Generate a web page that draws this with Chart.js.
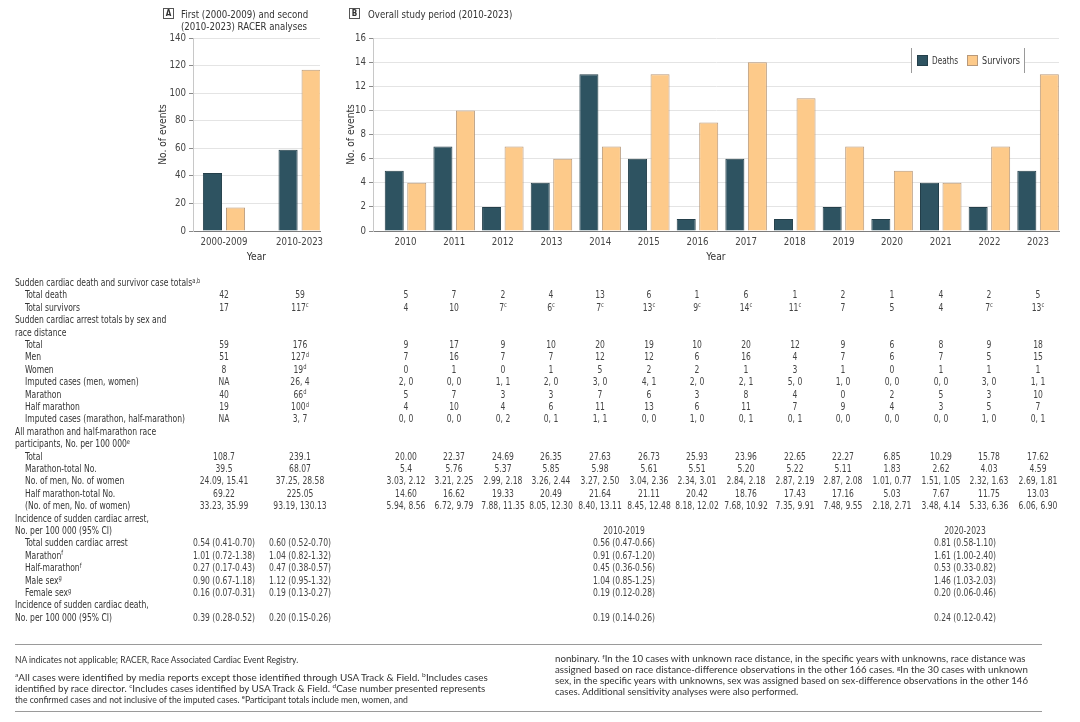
<!DOCTYPE html>
<html><head><meta charset="utf-8">
<script src="https://cdn.jsdelivr.net/npm/chart.js@4.4.1/dist/chart.umd.min.js"></script>
<style>
html,body{margin:0;padding:0;background:#fff;}
#wrap{position:relative;width:1080px;height:722px;overflow:hidden;background:#fff;color:#333;}
canvas{position:absolute;left:0;top:0;}
.t{position:absolute;white-space:nowrap;line-height:12px;height:12px;transform-origin:0 50%;}
.c{transform-origin:50% 50%;}
sup{font-size:68%;vertical-align:0;position:relative;top:-0.5em;line-height:0;}
.rule{position:absolute;height:0;border-top:1.5px solid #9a9a9a;}
.box{position:absolute;border:1px solid #555;font-weight:bold;text-align:center;box-sizing:border-box;color:#333;}
</style></head>
<body><div id="wrap">
<canvas id="cA" width="1080" height="722"></canvas>
<canvas id="cB" width="1080" height="722"></canvas>
</div>
<script>
// ---------------- DATA ----------------
const periodsA = ['2000-2009', '2010-2023'];
const deathsA = [42, 59];
const survivorsA = [17, 117];
const survivorNotesA = ['', 'c'];

const years = [2010, 2011, 2012, 2013, 2014, 2015, 2016, 2017, 2018, 2019, 2020, 2021, 2022, 2023];
const deathsB = [5, 7, 2, 4, 13, 6, 1, 6, 1, 2, 1, 4, 2, 5];
const survivorsB = [4, 10, 7, 6, 7, 13, 9, 14, 11, 7, 5, 4, 7, 13];
const survivorNotesB = ['', '', 'c', 'c', 'c', 'c', 'c', 'c', 'c', '', '', '', 'c', 'c'];

const yTicksA = [0, 20, 40, 60, 80, 100, 120, 140];
const yTicksB = [0, 2, 4, 6, 8, 10, 12, 14, 16];

// table rows: first two entries = panel A periods, then 2010..2023
const scaTotal = ['59', '176', '9', '17', '9', '10', '20', '19', '10', '20', '12', '9', '6', '8', '9', '18'];
const scaMen = ['51', '127^d', '7', '16', '7', '7', '12', '12', '6', '16', '4', '7', '6', '7', '5', '15'];
const scaWomen = ['8', '19^d', '0', '1', '0', '1', '5', '2', '2', '1', '3', '1', '0', '1', '1', '1'];
const imputedSex = ['NA', '26, 4', '2, 0', '0, 0', '1, 1', '2, 0', '3, 0', '4, 1', '2, 0', '2, 1', '5, 0', '1, 0', '0, 0', '0, 0', '3, 0', '1, 1'];
const scaMarathon = ['40', '66^d', '5', '7', '3', '3', '7', '6', '3', '8', '4', '0', '2', '5', '3', '10'];
const scaHalf = ['19', '100^d', '4', '10', '4', '6', '11', '13', '6', '11', '7', '9', '4', '3', '5', '7'];
const imputedDist = ['NA', '3, 7', '0, 0', '0, 0', '0, 2', '0, 1', '1, 1', '0, 0', '1, 0', '0, 1', '0, 1', '0, 0', '0, 0', '0, 0', '1, 0', '0, 1'];
const partTotal = ['108.7', '239.1', '20.00', '22.37', '24.69', '26.35', '27.63', '26.73', '25.93', '23.96', '22.65', '22.27', '6.85', '10.29', '15.78', '17.62'];
const partMarathon = ['39.5', '68.07', '5.4', '5.76', '5.37', '5.85', '5.98', '5.61', '5.51', '5.20', '5.22', '5.11', '1.83', '2.62', '4.03', '4.59'];
const partMarathonSex = ['24.09, 15.41', '37.25, 28.58', '3.03, 2.12', '3.21, 2.25', '2.99, 2.18', '3.26, 2.44', '3.27, 2.50', '3.04, 2.36', '2.34, 3.01', '2.84, 2.18', '2.87, 2.19', '2.87, 2.08', '1.01, 0.77', '1.51, 1.05', '2.32, 1.63', '2.69, 1.81'];
const partHalf = ['69.22', '225.05', '14.60', '16.62', '19.33', '20.49', '21.64', '21.11', '20.42', '18.76', '17.43', '17.16', '5.03', '7.67', '11.75', '13.03'];
const partHalfSex = ['33.23, 35.99', '93.19, 130.13', '5.94, 8.56', '6.72, 9.79', '7.88, 11.35', '8.05, 12.30', '8.40, 13.11', '8.45, 12.48', '8.18, 12.02', '7.68, 10.92', '7.35, 9.91', '7.48, 9.55', '2.18, 2.71', '3.48, 4.14', '5.33, 6.36', '6.06, 6.90'];

// incidence: panel A periods, then 2010-2019 and 2020-2023
const incPeriods = ['2010-2019', '2020-2023'];
const incTotal = ['0.54 (0.41-0.70)', '0.60 (0.52-0.70)', '0.56 (0.47-0.66)', '0.81 (0.58-1.10)'];
const incMarathon = ['1.01 (0.72-1.38)', '1.04 (0.82-1.32)', '0.91 (0.67-1.20)', '1.61 (1.00-2.40)'];
const incHalf = ['0.27 (0.17-0.43)', '0.47 (0.38-0.57)', '0.45 (0.36-0.56)', '0.53 (0.33-0.82)'];
const incMale = ['0.90 (0.67-1.18)', '1.12 (0.95-1.32)', '1.04 (0.85-1.25)', '1.46 (1.03-2.03)'];
const incFemale = ['0.16 (0.07-0.31)', '0.19 (0.13-0.27)', '0.19 (0.12-0.28)', '0.20 (0.06-0.46)'];
const incDeath = ['0.39 (0.28-0.52)', '0.20 (0.15-0.26)', '0.19 (0.14-0.26)', '0.24 (0.12-0.42)'];

const footLeft = [
  'NA indicates not applicable; RACER, Race Associated Cardiac Event Registry.',
  '^aAll cases were identified by media reports except those identified through USA Track &amp; Field. ^bIncludes cases',
  'identified by race director. ^cIncludes cases identified by USA Track &amp; Field. ^dCase number presented represents',
  'the confirmed cases and not inclusive of the imputed cases. ^eParticipant totals include men, women, and'
];
const footRight = [
  'nonbinary. ^fIn the 10 cases with unknown race distance, in the specific years with unknowns, race distance was',
  'assigned based on race distance-difference observations in the other 166 cases. ^gIn the 30 cases with unknown',
  'sex, in the specific years with unknowns, sex was assigned based on sex-difference observations in the other 146',
  'cases. Additional sensitivity analyses were also performed.'
];

// ---------------- FONTS ----------------
const mctx = document.createElement('canvas').getContext('2d');
function hasFont(f) {
  const s = 'mmmmmmmmmmlli1WQ@#abc';
  for (const base of ['monospace', 'serif']) {
    mctx.font = '40px ' + base; const a = mctx.measureText(s).width;
    mctx.font = '40px "' + f + '", ' + base; const b = mctx.measureText(s).width;
    if (a !== b) return true;
  }
  return false;
}
function pick(list) { for (const f of list) if (hasFont(f)) return f; return 'sans-serif'; }
function textW(fam, size, text) { mctx.font = size + 'px "' + fam + '"'; return mctx.measureText(text).width; }
const FAM = pick(['Liberation Sans Narrow', 'DejaVu Sans Condensed', 'Liberation Sans', 'Roboto']);
const FOOTFAM = pick(['Lato', 'Open Sans', 'Liberation Sans']);
const TSIZE = 10.2;
const COND = Math.min(1, 160 / textW(FAM, TSIZE, 'Imputed cases (marathon, half-marathon)'));
const FSIZE = 9.6;

Chart.defaults.font.family = '"' + FAM + '"';
Chart.defaults.font.size = 9.6;
Chart.defaults.color = '#444';

// ---------------- CHARTS ----------------
const DEATH_FILL = '#2e5361', DEATH_LINE = '#243f4a';
const SURV_FILL = '#fdca8a', SURV_LINE = '#b8997a';

const boxLegend = {
  id: 'boxLegend',
  afterDraw(chart) {
    const ctx = chart.ctx;
    ctx.save();
    ctx.fillStyle = '#fff';
    ctx.fillRect(911, 48, 113, 25);
    ctx.strokeStyle = '#9a9a9a'; ctx.lineWidth = 1;
    ctx.beginPath(); ctx.moveTo(911.5, 48); ctx.lineTo(911.5, 73); ctx.moveTo(1024.5, 48); ctx.lineTo(1024.5, 73); ctx.stroke();
    const xs = [917, 967];
    const tw = [26, 38];
    chart.data.datasets.forEach((ds, i) => {
      ctx.fillStyle = ds.backgroundColor; ctx.fillRect(xs[i], 55, 11, 11);
      ctx.strokeStyle = ds.borderColor; ctx.strokeRect(xs[i] + 0.5, 55.5, 10, 10);
      ctx.fillStyle = '#333'; ctx.font = '10px "' + FAM + '"';
      ctx.textBaseline = 'middle'; ctx.textAlign = 'left';
      ctx.fillText(ds.label, xs[i] + 15, 61, tw[i]);
    });
    ctx.restore();
  }
};

function makeBar(id, xVals, deaths, survivors, xMin, xMax, yTicks, catPct, barPct, pad, yWidth, xLabel, plugins) {
  return new Chart(document.getElementById(id), {
    type: 'bar',
    data: {
      datasets: [
        { label: 'Deaths', data: xVals.map((x, i) => ({ x: x, y: deaths[i] })), backgroundColor: DEATH_FILL, borderColor: DEATH_LINE, borderWidth: 1, categoryPercentage: catPct, barPercentage: barPct },
        { label: 'Survivors', data: xVals.map((x, i) => ({ x: x, y: survivors[i] })), backgroundColor: SURV_FILL, borderColor: SURV_LINE, borderWidth: 1, categoryPercentage: catPct, barPercentage: barPct }
      ]
    },
    options: {
      responsive: false, animation: false,
      layout: { padding: pad },
      plugins: { legend: { display: false }, tooltip: { enabled: false } },
      scales: {
        x: {
          type: 'linear', min: xMin, max: xMax, offset: false,
          grid: { display: false, drawTicks: false },
          border: { display: true, color: '#7d7d7d', width: 1 },
          ticks: { stepSize: 1, autoSkip: false, includeBounds: false, maxRotation: 0, minRotation: 0, padding: 6, color: '#444', callback: xLabel },
          title: { display: true, text: 'Year', color: '#333', font: { size: 10.2 }, padding: { top: 4, bottom: 4 } },
          afterFit(s) { s.height = 36; }
        },
        y: {
          min: yTicks[0], max: yTicks[yTicks.length - 1],
          ticks: { stepSize: yTicks[1] - yTicks[0], padding: 3, color: '#444' },
          grid: { color: '#e4e4e4', tickColor: '#8a8a8a', tickLength: 4, lineWidth: 1 },
          border: { display: true, color: '#c8c8c8' },
          title: { display: true, text: 'No. of events', color: '#333', font: { size: 10.2 }, padding: { top: 4, bottom: 4 } },
          afterFit(s) { s.width = yWidth; }
        }
      }
    },
    plugins: plugins
  });
}

const chartA = makeBar('cA', periodsA.map((p, i) => i), deathsA, survivorsA, -0.41, 1.27, yTicksA, 0.61, 0.83,
  { left: 153, top: 38, right: 760, bottom: 455 }, 40,
  v => (Number.isInteger(v) && periodsA[v] !== undefined) ? periodsA[v] : '', []);
const chartB = makeBar('cB', years, deathsB, survivorsB, 2009.332, 2023.43, yTicksB, 0.925, 0.845,
  { left: 341, top: 38, right: 21, bottom: 455 }, 32,
  v => years.includes(v) ? String(v) : '', [boxLegend]);
document.getElementById('cB').style.pointerEvents = 'none';

// ---------------- TEXT OVERLAY ----------------
const wrap = document.getElementById('wrap');
function fmt(s) { return String(s).replace(/\^([a-z,]+)/g, '<sup>$1</sup>'); }
function addText(html, x, y, opts) {
  opts = opts || {};
  const d = document.createElement('div');
  d.className = 't' + (opts.center ? ' c' : '');
  d.innerHTML = fmt(html);
  d.style.left = x + 'px';
  d.style.top = (y - 6) + 'px';
  d.style.fontFamily = '"' + (opts.fam || FAM) + '"';
  d.style.fontSize = (opts.size || TSIZE) + 'px';
  d.style.color = opts.color || '#333';
  wrap.appendChild(d);
  let k = opts.scale || COND;
  if (opts.fitW) k = opts.fitW / d.offsetWidth;
  d.style.transform = (opts.center ? 'translateX(-50%) ' : '') + 'scaleX(' + k + ')';
  return d;
}
function addBox(letter, x, y) {
  const b = document.createElement('div');
  b.className = 'box';
  b.style.left = x + 'px'; b.style.top = y + 'px';
  b.style.width = '11px'; b.style.height = '11px';
  b.style.fontSize = '8px'; b.style.lineHeight = '9px';
  b.style.fontFamily = '"' + FAM + '"';
  b.textContent = letter;
  wrap.appendChild(b);
}
function addRule(x, y, w) {
  const r = document.createElement('div');
  r.className = 'rule';
  r.style.left = x + 'px'; r.style.top = y + 'px'; r.style.width = w + 'px';
  wrap.appendChild(r);
}

// panel headers
addBox('A', 163, 8);
addText('First (2000-2009) and second', 181, 14, { size: 10.6, fitW: 127 });
addText('(2010-2023) RACER analyses', 181, 26, { size: 10.6, fitW: 126 });
addBox('B', 349, 8);
addText('Overall study period (2010-2023)', 368, 14, { size: 10.6, fitW: 144 });

// column positions from the chart scales
const colX = [0, 1].map(i => chartA.scales.x.getPixelForValue(i))
  .concat(years.map(y => chartB.scales.x.getPixelForValue(y)));
const incX = colX.slice(0, 2).concat([2014.5, 2021.5].map(v => chartB.scales.x.getPixelForValue(v)));

const deathRow = deathsA.concat(deathsB).map(String);
const survRow = survivorsA.map((v, i) => v + (survivorNotesA[i] ? '^' + survivorNotesA[i] : ''))
  .concat(survivorsB.map((v, i) => v + (survivorNotesB[i] ? '^' + survivorNotesB[i] : '')));

const rows = [
  ['Sudden cardiac death and survivor case totals^a,b', 0, null],
  ['Total death', 1, deathRow],
  ['Total survivors', 1, survRow],
  ['Sudden cardiac arrest totals by sex and', 0, null],
  ['race distance', 0, null],
  ['Total', 1, scaTotal],
  ['Men', 1, scaMen],
  ['Women', 1, scaWomen],
  ['Imputed cases (men, women)', 1, imputedSex],
  ['Marathon', 1, scaMarathon],
  ['Half marathon', 1, scaHalf],
  ['Imputed cases (marathon, half-marathon)', 1, imputedDist],
  ['All marathon and half-marathon race', 0, null],
  ['participants, No. per 100 000^e', 0, null],
  ['Total', 1, partTotal],
  ['Marathon-total No.', 1, partMarathon],
  ['No. of men, No. of women', 1, partMarathonSex],
  ['Half marathon-total No.', 1, partHalf],
  ['(No. of men, No. of women)', 1, partHalfSex],
  ['Incidence of sudden cardiac arrest,', 0, null],
  ['No. per 100 000 (95% CI)', 0, 'periods'],
  ['Total sudden cardiac arrest', 1, 'inc', incTotal],
  ['Marathon^f', 1, 'inc', incMarathon],
  ['Half-marathon^f', 1, 'inc', incHalf],
  ['Male sex^g', 1, 'inc', incMale],
  ['Female sex^g', 1, 'inc', incFemale],
  ['Incidence of sudden cardiac death,', 0, null],
  ['No. per 100 000 (95% CI)', 0, 'inc', incDeath]
];
rows.forEach((r, i) => {
  const y = 283 + 12.4 * i;
  addText(r[0], r[1] ? 25 : 15, y, { color: '#333' });
  if (Array.isArray(r[2])) {
    r[2].forEach((v, j) => addText(v, colX[j], y, { center: true, color: '#444' }));
  } else if (r[2] === 'periods') {
    incPeriods.forEach((p, j) => addText(p, incX[j + 2], y, { center: true, color: '#444' }));
  } else if (r[2] === 'inc') {
    r[3].forEach((v, j) => addText(v, incX[j], y, { center: true, color: '#444' }));
  }
});

// footnotes
addRule(15, 644, 1027);
addRule(15, 711, 1027);
const footLeftY = [660, 677.5, 688.5, 699.5];
const footLeftW = [283, 473, 470, 393];
const footRightY = [659, 670, 681, 692];
const footRightW = [470, 473, 473, 243];
footLeft.forEach((s, i) => addText(s, 15, footLeftY[i], { fam: FOOTFAM, size: FSIZE, color: '#333', fitW: footLeftW[i] }));
footRight.forEach((s, i) => addText(s, 555, footRightY[i], { fam: FOOTFAM, size: FSIZE, color: '#333', fitW: footRightW[i] }));
</script></body></html>
